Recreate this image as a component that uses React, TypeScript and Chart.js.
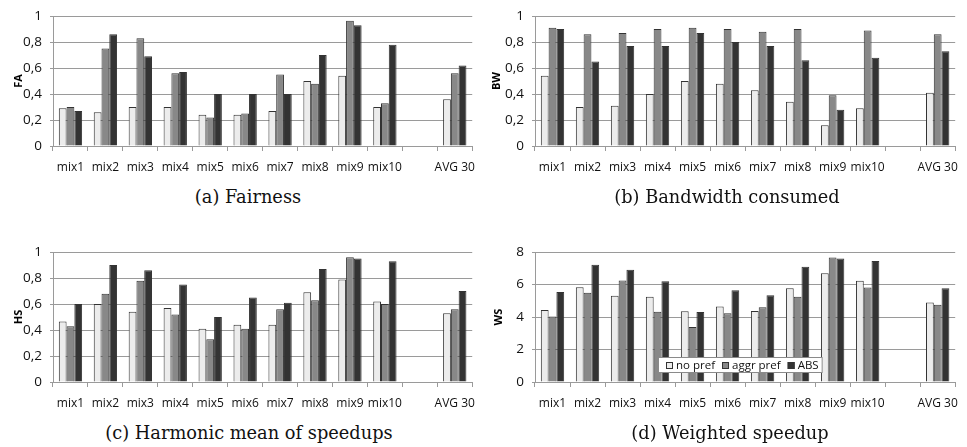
import React, { useEffect, useRef } from 'react';
import { Chart, registerables } from 'chart.js';
Chart.register(...registerables);

const categories = ['mix1', 'mix2', 'mix3', 'mix4', 'mix5', 'mix6', 'mix7', 'mix8', 'mix9', 'mix10', '', 'AVG 30'];
const seriesNames = ['no pref', 'aggr pref', 'ABS'];
const seriesFills = ['#ececec', '#888888', '#333333'];

// (a) Fairness
const faNoPref = [0.29, 0.26, 0.30, 0.30, 0.24, 0.24, 0.27, 0.50, 0.54, 0.30, null, 0.36];
const faAggrPref = [0.30, 0.75, 0.83, 0.56, 0.22, 0.25, 0.55, 0.48, 0.965, 0.33, null, 0.56];
const faAbs = [0.27, 0.86, 0.69, 0.57, 0.40, 0.40, 0.40, 0.70, 0.93, 0.78, null, 0.62];

// (b) Bandwidth consumed
const bwNoPref = [0.54, 0.30, 0.31, 0.40, 0.50, 0.48, 0.43, 0.34, 0.16, 0.29, null, 0.41];
const bwAggrPref = [0.91, 0.86, 0.87, 0.90, 0.91, 0.90, 0.88, 0.90, 0.39, 0.89, null, 0.86];
const bwAbs = [0.90, 0.65, 0.77, 0.77, 0.87, 0.80, 0.77, 0.66, 0.28, 0.68, null, 0.73];

// (c) Harmonic mean of speedups
const hsNoPref = [0.465, 0.60, 0.54, 0.57, 0.41, 0.44, 0.44, 0.69, 0.79, 0.62, null, 0.53];
const hsAggrPref = [0.43, 0.68, 0.78, 0.52, 0.33, 0.41, 0.56, 0.63, 0.96, 0.60, null, 0.56];
const hsAbs = [0.60, 0.90, 0.86, 0.75, 0.50, 0.65, 0.61, 0.87, 0.95, 0.93, null, 0.70];

// (d) Weighted speedup
const wsNoPref = [4.43, 5.84, 5.31, 5.25, 4.35, 4.65, 4.37, 5.78, 6.69, 6.24, null, 4.90];
const wsAggrPref = [4.04, 5.49, 6.25, 4.33, 3.39, 4.24, 4.60, 5.25, 7.67, 5.82, null, 4.75];
const wsAbs = [5.55, 7.22, 6.92, 6.20, 4.31, 5.65, 5.35, 7.10, 7.61, 7.45, null, 5.78];

const captions = ['(a) Fairness', '(b) Bandwidth consumed', '(c) Harmonic mean of speedups', '(d) Weighted speedup'];

const insideLegend = {
  id: 'insideLegend',
  afterDatasetsDraw(chart: any) {
    const { ctx, chartArea } = chart;
    ctx.save();
    ctx.font = '11.5px "Open Sans"';
    const box = 7;
    const gapAfterBox = 3;
    const gapBetween = 7;
    const padL = 8;
    const padR = 4;
    const h = 16;
    const widths = seriesNames.map((n) => ctx.measureText(n).width);
    let total = padL + padR + gapBetween * (seriesNames.length - 1);
    widths.forEach((w) => (total += box + gapAfterBox + w));
    const x0 = Math.round(chartArea.left + 123);
    const y0 = Math.round(chartArea.bottom - 9 - h);
    ctx.fillStyle = '#ffffff';
    ctx.fillRect(x0, y0, total, h);
    ctx.strokeStyle = '#8a8a8a';
    ctx.lineWidth = 1;
    ctx.strokeRect(x0 + 0.5, y0 + 0.5, total - 1, h - 1);
    let x = x0 + padL;
    const cy = y0 + h / 2;
    seriesNames.forEach((n, i) => {
      ctx.fillStyle = seriesFills[i];
      ctx.fillRect(x, Math.round(cy - 3.5), box, box);
      ctx.strokeStyle = '#333';
      ctx.strokeRect(x + 0.5, Math.round(cy - 3.5) + 0.5, box - 1, box - 1);
      x += box + gapAfterBox;
      ctx.fillStyle = '#111';
      ctx.textBaseline = 'middle';
      ctx.textAlign = 'left';
      ctx.fillText(n, x, cy + 0.5);
      x += widths[i] + gapBetween;
    });
    ctx.restore();
  },
};

type PanelProps = {
  left: number;
  top: number;
  width: number;
  height: number;
  yAxisWidth: number;
  padRight: number;
  titlePad: number;
  series: (number | null)[][];
  yTitle: string;
  yMax: number;
  yStep: number;
  legend?: boolean;
};

function Panel(p: PanelProps) {
  const ref = useRef<HTMLCanvasElement | null>(null);
  useEffect(() => {
    if (!ref.current) return;
    const chart = new Chart(ref.current, {
      type: 'bar',
      data: {
        labels: categories,
        datasets: seriesNames.map((name, i) => ({
          label: name,
          data: p.series[i],
          backgroundColor: seriesFills[i],
          borderColor: '#333333',
          borderWidth: 1,
          categoryPercentage: 0.667,
          barPercentage: 1,
        })),
      },
      options: {
        animation: false,
        responsive: false,
        maintainAspectRatio: false,
        layout: { padding: { top: 11, right: p.padRight, left: 0, bottom: 0 } },
        plugins: { legend: { display: false }, tooltip: { enabled: false } },
        scales: {
          x: {
            grid: { offset: true, drawOnChartArea: false, drawTicks: true, tickLength: 5, color: '#9a9a9a' },
            border: { display: true, color: '#9a9a9a' },
            ticks: {
              font: { family: '"Open Sans"', size: 12 },
              color: '#111',
              padding: 9,
              maxRotation: 0,
              autoSkip: false,
            },
            afterFit: (s: any) => {
              s.height = 39;
            },
          },
          y: {
            min: 0,
            max: p.yMax,
            ticks: {
              stepSize: p.yStep,
              font: { family: '"Open Sans"', size: 13.5 },
              color: '#111',
              padding: 8,
              callback: (v: any) => String(Number(Number(v).toFixed(1))).replace('.', ','),
            },
            grid: { color: '#9a9a9a', tickLength: 3 },
            border: { display: true, color: '#9a9a9a' },
            title: {
              display: true,
              text: p.yTitle,
              color: '#000',
              font: { family: '"Open Sans"', size: 11, weight: 'bold' },
              padding: { top: p.titlePad, bottom: 0 },
            },
            afterFit: (s: any) => {
              s.width = p.yAxisWidth;
            },
          },
        },
      } as any,
      plugins: p.legend ? [insideLegend] : [],
    });
    return () => chart.destroy();
  }, []);
  return (
    <canvas
      ref={ref}
      width={p.width}
      height={p.height}
      style={{ position: 'absolute', left: p.left, top: p.top, width: p.width, height: p.height }}
    />
  );
}

function Caption({ x, y, text }: { x: number; y: number; text: string }) {
  return (
    <div
      style={{
        position: 'absolute',
        left: x,
        top: y,
        transform: 'translate(-50%, -50%)',
        whiteSpace: 'nowrap',
        font: '17.8px "DejaVu Serif"',
        color: '#111',
      }}
    >
      {text}
    </div>
  );
}

export default function App() {
  return (
    <div style={{ position: 'absolute', left: 0, top: 0, width: 967, height: 447, background: '#fff', overflow: 'hidden' }}>
      <Panel left={0} top={0} width={484} height={185} yAxisWidth={53} padRight={2} titlePad={12}
        series={[faNoPref, faAggrPref, faAbs]} yTitle="FA" yMax={1} yStep={0.2} />
      <Panel left={480} top={0} width={487} height={185} yAxisWidth={55} padRight={4} titlePad={10}
        series={[bwNoPref, bwAggrPref, bwAbs]} yTitle="BW" yMax={1} yStep={0.2} />
      <Panel left={0} top={236} width={484} height={185} yAxisWidth={53} padRight={2} titlePad={12}
        series={[hsNoPref, hsAggrPref, hsAbs]} yTitle="HS" yMax={1} yStep={0.2} />
      <Panel left={480} top={236} width={487} height={185} yAxisWidth={55} padRight={4} titlePad={12}
        series={[wsNoPref, wsAggrPref, wsAbs]} yTitle="WS" yMax={8} yStep={2} legend />
      <Caption x={248} y={196} text={captions[0]} />
      <Caption x={727} y={196} text={captions[1]} />
      <Caption x={249} y={432} text={captions[2]} />
      <Caption x={730} y={432} text={captions[3]} />
    </div>
  );
}
